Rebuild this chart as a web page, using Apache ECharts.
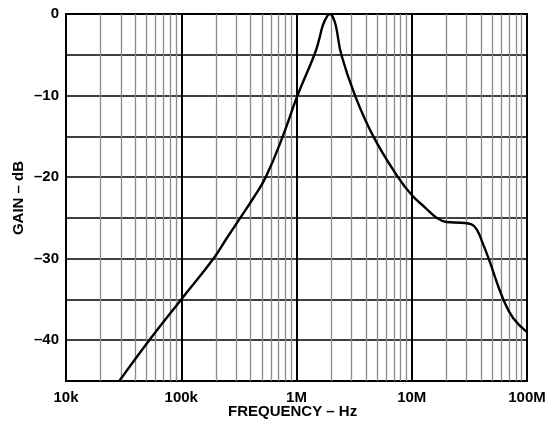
<!DOCTYPE html>
<html>
<head>
<meta charset="utf-8">
<script src="https://cdn.jsdelivr.net/npm/echarts@6/dist/echarts.min.js"></script>
<style>
html,body{margin:0;padding:0;background:#fff;}
#chart{width:554px;height:424px;}
</style>
</head>
<body>
<div id="chart"></div>
<script>
// ---- data ----
const freqHz = [29e3, 52.8e3, 100e3, 190e3, 248e3, 325e3, 425e3, 541e3, 760e3, 1.02e6, 1.43e6, 1.56e6, 1.70e6, 1.86e6, 1.96e6, 2.06e6, 2.2e6, 2.45e6, 3.22e6, 4.64e6, 7.6e6, 10e6, 13e6, 16.5e6, 20e6, 27e6, 33e6, 36.6e6, 41e6, 46.5e6, 62.3e6, 76e6, 100e6];
const gainDb = [-45, -40, -35, -30, -27.5, -25, -22.5, -20, -15, -10, -5, -3.3, -1.3, -0.2, 0, -0.3, -1.5, -5, -10, -15, -20, -22.2, -23.7, -25, -25.5, -25.6, -25.8, -26.4, -28, -30, -35, -37.3, -39];
const xTickValues = [1e4, 1e5, 1e6, 1e7, 1e8];
const xTickLabels = ['10k', '100k', '1M', '10M', '100M'];
const yTickValues = [0, -10, -20, -30, -40];
const yTickLabels = ['0', '\u201310', '\u201320', '\u201330', '\u201340'];
const minorMultipliers = [2, 3, 4, 5, 6, 7, 8, 9];
const minorDecades = [1e4, 1e5, 1e6, 1e7];
const xTitle = 'FREQUENCY \u2013 Hz';
const yTitle = 'GAIN \u2013 dB';

const minorFreqs = [];
minorDecades.forEach(d => minorMultipliers.forEach(m => minorFreqs.push(d * m)));

const chart = echarts.init(document.getElementById('chart'), null, {renderer: 'canvas'});
const FONT = '"Liberation Sans", Arial, Helvetica, sans-serif';

chart.setOption({
  animation: false,
  backgroundColor: '#fff',
  grid: {left: 66, right: 27, top: 14, bottom: 43, show: true, borderColor: '#000', borderWidth: 2, backgroundColor: 'transparent'},
  xAxis: {
    type: 'log', logBase: 10, min: 1e4, max: 1e8,
    axisLine: {show: true, lineStyle: {color: '#000', width: 2}},
    axisTick: {show: false},
    minorTick: {show: false},
    splitLine: {show: true, lineStyle: {color: '#000', width: 2}},
    axisLabel: {
      margin: 9, color: '#000', fontFamily: FONT, fontWeight: 'bold', fontSize: 15,
      formatter: v => {
        const e = Math.round(Math.log10(v));
        const i = xTickValues.findIndex(t => Math.round(Math.log10(t)) === e);
        return i >= 0 ? xTickLabels[i] : '';
      }
    }
  },
  yAxis: {
    type: 'value', min: -45, max: 0, interval: 5,
    axisLine: {show: true, lineStyle: {color: '#000', width: 2}},
    axisTick: {show: false},
    splitLine: {show: true, lineStyle: {color: '#000', width: 1.6}},
    axisLabel: {
      margin: 7, color: '#000', fontFamily: FONT, fontWeight: 'bold', fontSize: 15,
      formatter: v => {
        const i = yTickValues.indexOf(Math.round(v));
        return i >= 0 ? yTickLabels[i] : '';
      }
    }
  },
  graphic: [
    {type: 'text', left: 228, top: 404, style: {text: xTitle, fontFamily: FONT, fontWeight: 'bold', fontSize: 15, fill: '#000'}},
    {type: 'text', x: 19, y: 198, rotation: Math.PI / 2, style: {text: yTitle, fontFamily: FONT, fontWeight: 'bold', fontSize: 15, fill: '#000', align: 'center', verticalAlign: 'middle'}}
  ],
  series: [
    {
      type: 'line', data: [], silent: true, z: 1,
      markLine: {
        silent: true, symbol: ['none', 'none'], label: {show: false},
        lineStyle: {color: '#8a8a8a', width: 1.3, type: 'solid'},
        data: minorFreqs.map(f => ({xAxis: f}))
      }
    },
    {
      type: 'line', z: 5,
      data: freqHz.map((f, i) => [f, gainDb[i]]),
      showSymbol: false, smooth: 0.45,
      lineStyle: {color: '#000', width: 2.4}
    }
  ]
});
</script>
</body>
</html>
